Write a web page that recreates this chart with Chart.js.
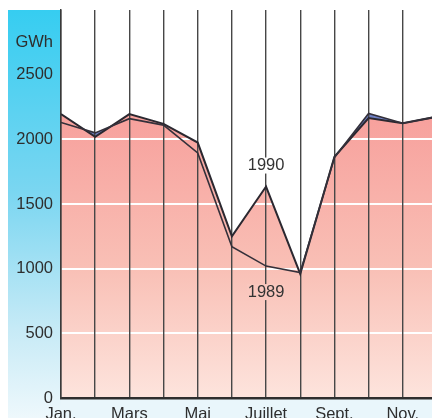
<!DOCTYPE html>
<html>
<head>
<meta charset="utf-8">
<script src="https://cdn.jsdelivr.net/npm/chart.js@4"></script>
<style>
  body { margin: 0; background: #fff; overflow: hidden; }
  canvas { display: block; }
</style>
</head>
<body>
<canvas id="graficoProduccion" width="432" height="418"></canvas>
<script>
// datos (GWh por mes)
const mois = ["Jan.", "Févr.", "Mars", "Avril", "Mai", "Juin", "Juillet", "Août", "Sept.", "Oct.", "Nov.", "Déc."];
const prod1990 = [2195, 2020, 2195, 2120, 1975, 1250, 1635, 960, 1865, 2165, 2125, 2175];
const prod1989 = [2130, 2050, 2160, 2110, 1895, 1170, 1020, 970, 1860, 2200, 2125, 2175];
const ticksY = [0, 500, 1000, 1500, 2000, 2500];
const uniteY = "GWh";

const FUENTE = { family: "'Liberation Sans', Arial, Helvetica, sans-serif", size: 16.5 };

// fondo azul en L (columna izquierda + franja inferior)
const fondoAzul = {
    id: "fondoAzul",
    beforeDraw(chart) {
        const { ctx, chartArea: ca } = chart;
        ctx.save();
        const g = ctx.createLinearGradient(0, 10, 0, 418);
        g.addColorStop(0, "#36cdf1");
        g.addColorStop(0.45, "#7bd6f1");
        g.addColorStop(0.78, "#c6eaf6");
        g.addColorStop(1, "#eef8fc");
        ctx.fillStyle = g;
        ctx.fillRect(8, 10, ca.left - 8, 418 - 10);
        ctx.fillStyle = "#e9f6fb";
        ctx.fillRect(ca.left, ca.bottom, chart.width - ca.left, chart.height - ca.bottom);
        ctx.restore();
    }
};

// etiquetas de los anios
const etiquetasAnio = {
    id: "etiquetasAnio",
    afterDraw(chart) {
        const { ctx, scales: { x, y } } = chart;
        ctx.save();
        ctx.font = FUENTE.size + "px " + FUENTE.family;
        ctx.textAlign = "center";
        ctx.textBaseline = "middle";
        const px = x.getPixelForValue(6);
        const y90 = y.getPixelForValue(prod1990[6]) - 21;
        const y89 = y.getPixelForValue(prod1989[6]) + 26;
        ctx.fillStyle = "#ffffff";
        ctx.fillRect(px - 19, y90 - 8, 38, 16);
        ctx.fillStyle = "#fac7be";
        ctx.fillRect(px - 19, y89 - 8, 38, 16);
        ctx.fillStyle = "#333";
        ctx.fillText("1990", px, y90);
        ctx.fillText("1989", px, y89);
        ctx.restore();
    }
};

function gradienteRosa(context) {
    const { chart } = context;
    const ca = chart.chartArea;
    if (!ca) return "#f8b0a8";
    const g = chart.ctx.createLinearGradient(0, chart.scales.y.getPixelForValue(2200), 0, ca.bottom);
    g.addColorStop(0, "#f7a09c");
    g.addColorStop(0.55, "#f9c0b6");
    g.addColorStop(1, "#fde4dd");
    return g;
}

new Chart(document.getElementById("graficoProduccion"), {
    type: "line",
    data: {
        datasets: [
            {
                label: "1989",
                data: prod1989.map((v, i) => ({ x: i, y: v })),
                borderColor: "#34303a",
                borderWidth: 1.6,
                pointRadius: 0,
                tension: 0,
                fill: { target: 1, above: "#6f80c4", below: "rgba(0,0,0,0)" }
            },
            {
                label: "1990",
                data: prod1990.map((v, i) => ({ x: i, y: v })),
                borderColor: "#2b2830",
                borderWidth: 2,
                pointRadius: 0,
                tension: 0,
                backgroundColor: gradienteRosa,
                fill: "origin"
            }
        ]
    },
    options: {
        responsive: false,
        animation: false,
        devicePixelRatio: 1,
        layout: { padding: { top: 10, left: 0, right: 0, bottom: 0 } },
        plugins: {
            legend: { display: false },
            tooltip: { enabled: false },
            // rellenos antes de la rejilla, lineas encima
            filler: { drawTime: "beforeDraw" }
        },
        scales: {
            x: {
                type: "linear",
                min: 0,
                max: 10.855,
                afterBuildTicks: s => { s.ticks = mois.slice(0, 11).map((m, i) => ({ value: i })); },
                afterFit: s => { s.height = 20; s.paddingLeft = 0; s.paddingRight = 0; },
                grid: { z: -1, color: "#474747", lineWidth: 1.4, drawTicks: false },
                border: { color: "#2e2e2e", width: 2.5 },
                ticks: {
                    padding: 7,
                    maxRotation: 0,
                    autoSkip: false,
                    color: "#2e2e2e",
                    font: FUENTE,
                    callback: v => (v % 2 === 0 ? mois[v] : "")
                }
            },
            y: {
                min: 0,
                max: 3000,
                afterBuildTicks: s => { s.ticks = ticksY.concat([2750]).map(v => ({ value: v })); },
                afterFit: s => { s.width = 61; s.paddingTop = 0; s.paddingBottom = 0; },
                grid: {
                    z: -2,
                    drawTicks: false,
                    lineWidth: 2,
                    color: c => (c.tick && c.tick.value > 0 && c.tick.value <= 2500 ? "#ffffff" : "rgba(0,0,0,0)")
                },
                border: { color: "#3a3a3a", width: 1.5 },
                ticks: {
                    padding: 8,
                    color: "#2e2e2e",
                    font: FUENTE,
                    callback: v => (v === 2750 ? uniteY : String(v))
                }
            }
        }
    },
    plugins: [fondoAzul, etiquetasAnio]
});
</script>
</body>
</html>
